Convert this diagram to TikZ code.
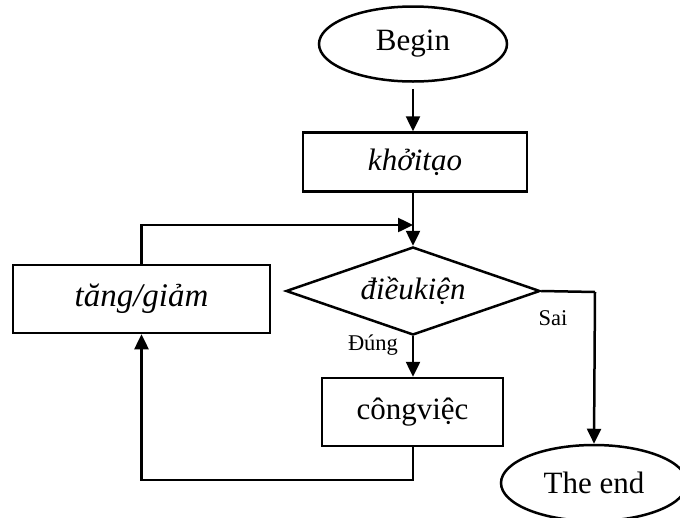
\documentclass[tikz,border=0pt]{standalone}
\usepackage{fontspec}
\setmainfont{Liberation Serif}
\usetikzlibrary{shapes.geometric,arrows.meta}
\begin{document}
\begin{tikzpicture}[x=1pt,y=-1pt,
  flow/.style={line width=2.5pt, draw=black},
  arr/.style={flow, -{Triangle[length=15pt,width=14pt]}},
  textbig/.style={font=\fontsize{31}{36}\selectfont},
  textsmall/.style={font=\fontsize{22.5}{26}\selectfont},
  terminal/.style={ellipse, flow, textbig, inner sep=0pt},
  procbox/.style={rectangle, flow, textbig, inner sep=0pt},
  decision/.style={diamond, flow, textbig, inner sep=0pt, aspect=2.89}
]
\useasboundingbox (0,0) rectangle (680,517);

% nodes
\node[terminal, minimum width=188pt, minimum height=75pt] (begin) at (413,44) {Begin};
\node[procbox, minimum width=224pt, minimum height=59pt] (init) at (415,162) {\itshape khởitạo};
\node[decision, minimum width=254pt, minimum height=88pt] (cond) at (413,291) {\itshape điềukiện};
\node[procbox, minimum width=181pt, minimum height=68pt] (work) at (412.5,412) {côngviệc};
\node[procbox, minimum width=257pt, minimum height=68pt] (upd) at (141.5,299) {\itshape\fontsize{33}{38}\selectfont tăng/giảm};
\node[terminal, minimum width=186pt, minimum height=76pt] (stop) at (594,483) {The end};

% labels
\node[textsmall] (yes) at (373,345) {Đúng};
\node[textsmall] (no) at (553,318) {Sai};

% helper points
\coordinate (join) at (413,225);
\coordinate (loopback) at (413,480);
\coordinate (exitturn) at (595,292);

% connectors
\draw[arr, shorten <=6pt] (begin.south) -- (begin.south |- init.north);
\draw[arr] (init.south -| cond.north) -- (cond.north);
\draw[arr] (upd.north) |- (join);
\draw[arr] (cond.south) -- (work.north -| cond.south);
\draw[flow] (cond.east) -- (exitturn);
\draw[arr] (exitturn) -- (stop.north);
\draw[arr] (work.south -| loopback) -- (loopback) -| (upd.south);
\end{tikzpicture}
\end{document}
